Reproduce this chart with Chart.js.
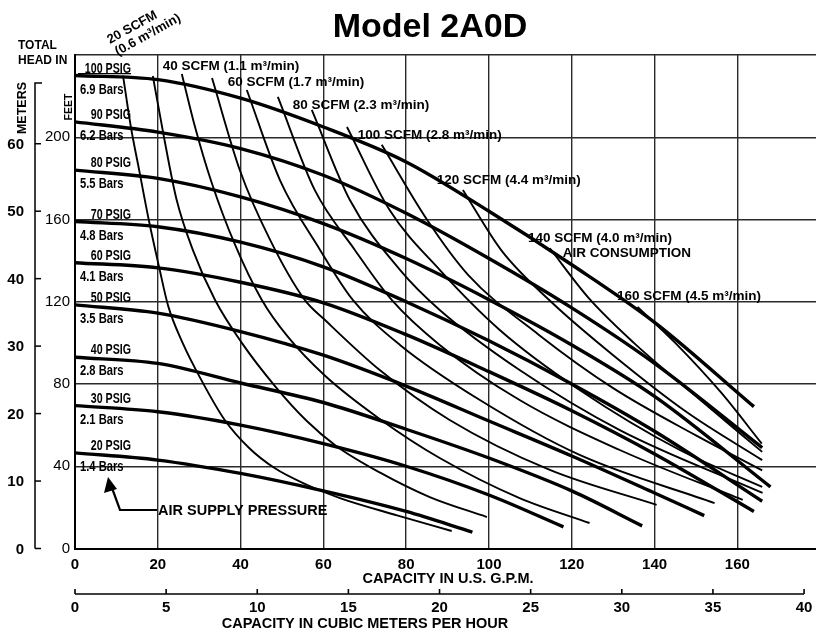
<!DOCTYPE html>
<html>
<head>
<meta charset="utf-8">
<title>Model 2A0D</title>
<script src="https://cdn.jsdelivr.net/npm/chart.js@4.4.0/dist/chart.umd.min.js"></script>
<style>
  html, body { margin: 0; padding: 0; background: #fff; }
  #wrap { width: 816px; height: 634px; }
</style>
</head>
<body>
<div id="wrap"><canvas id="pumpChart" width="816" height="634"></canvas></div>
<script>
/* ================= DATA ================= */
const gpmTicks = [0, 20, 40, 60, 80, 100, 120, 140, 160];
const feetTicks = [0, 40, 80, 120, 160, 200, 240];
const meterTicks = [0, 10, 20, 30, 40, 50, 60];
const m3hTicks = [0, 5, 10, 15, 20, 25, 30, 35, 40];

const psigNames = ["100 PSIG", "90 PSIG", "80 PSIG", "70 PSIG", "60 PSIG", "50 PSIG", "40 PSIG", "30 PSIG", "20 PSIG"];
const barNames = ["6.9 Bars", "6.2 Bars", "5.5 Bars", "4.8 Bars", "4.1 Bars", "3.5 Bars", "2.8 Bars", "2.1 Bars", "1.4 Bars"];

// head in feet vs capacity in gpm, one list per air supply pressure
const psig100 = [[0, 230], [20, 228], [40, 219], [60, 205], [80, 188], [100, 164], [120, 138], [140, 110], [164, 69]];
const psig90 = [[0, 207.5], [20, 202.5], [40, 194.5], [60, 181.5], [80, 163], [100, 141], [120, 117], [140, 90], [166, 49]];
const psig80 = [[0, 184], [20, 180], [40, 171], [60, 158], [80, 141], [100, 121], [120, 99], [140, 74], [168, 30]];
const psig70 = [[0, 159], [20, 156.5], [40, 149], [60, 137], [80, 120], [100, 101], [120, 80], [140, 57], [166, 23]];
const psig60 = [[0, 139], [20, 136.5], [40, 129.5], [60, 119.5], [80, 104], [100, 86], [120, 67], [140, 46], [164, 18]];
const psig50 = [[0, 118.5], [20, 114.5], [40, 105.5], [60, 94], [80, 79], [100, 62], [120, 45], [140, 27], [152, 16]];
const psig40 = [[0, 93], [20, 90], [40, 80.5], [60, 71], [80, 58], [100, 44], [120, 28], [137, 11]];
const psig30 = [[0, 69.5], [20, 66.5], [40, 60], [60, 51], [80, 40], [100, 26], [118, 10.5]];
const psig20 = [[0, 46.5], [20, 43], [40, 36.5], [60, 28], [80, 18], [96, 8]];
const psigCurves = [psig100, psig90, psig80, psig70, psig60, psig50, psig40, psig30, psig20];

// air consumption lines (scfm)
const scfm20 = [[11.6, 230], [13.5, 205], [15.5, 184], [17.8, 160], [20.3, 137], [22.5, 118], [26, 100], [30.5, 82], [36, 63], [42, 49], [48.3, 39], [56, 31], [64, 24.5], [78, 16], [91, 8.5]];
const scfm30 = [[18.8, 229.8], [21.5, 200], [24.5, 170], [28.5, 145], [33.8, 121], [40.3, 100], [48.3, 79], [56, 62], [63, 50], [73.6, 37], [85.7, 25], [99.5, 15.3]];
const scfm40 = [[25.8, 230.8], [29, 205], [33, 178], [38.6, 148], [45.1, 121], [51.4, 103], [60.4, 84], [73.6, 63], [88.1, 44], [107.4, 24.5], [124.3, 12.4]];
const scfm50 = [[33.1, 228.8], [39.8, 184.1], [47.1, 150.2], [55.5, 120.9], [60.4, 111.1], [73.6, 86.8], [90.5, 62.5], [114.7, 38.2], [140.5, 21.2]];
const scfm60 = [[41.5, 223], [49.5, 179.2], [59.2, 145.2], [67.1, 120.9], [78.5, 99], [97.8, 72.2], [121.9, 45.5], [154.5, 22.1]];
const scfm70 = [[49, 219.6], [57.9, 174.4], [67.6, 145.2], [76.5, 120.9], [88.1, 99], [107.4, 72.2], [131.6, 47.9], [161.3, 23.6]];
const scfm80 = [[57.2, 213.3], [66.4, 169.5], [78.5, 135.5], [88.1, 116], [107.4, 86.8], [131.6, 57.6], [166.1, 27]];
const scfm90 = [[65.7, 205], [76, 164.6], [88.1, 135.5], [102.6, 106.3], [121.9, 77.1], [146.1, 47.9], [166, 30]];
const scfm100 = [[74.1, 196.3], [85, 160], [95, 133], [112, 104], [130, 78], [150, 55], [166, 38]];
const scfm120 = [[93.7, 174.4], [103, 145], [115, 120], [130, 94], [148, 66], [166, 43]];
const scfm140 = [[114.7, 146], [124, 122], [135, 100], [150, 74], [166, 47]];
const scfm160 = [[135.9, 117.5], [145, 100], [156, 76], [165.9, 51]];
const scfmCurves = [scfm20, scfm30, scfm40, scfm50, scfm60, scfm70, scfm80, scfm90, scfm100, scfm120, scfm140, scfm160];

/* ================= LABELS ================= */
const FT_PER_M = 3.28084;
const GPM_PER_M3H = 4.40287;

// label anchors in chart units (gpm, ft)
const scfmLabels = [
  { text: "40 SCFM (1.1 m³/min)", gpm: 21.2, ft: 234.7 },
  { text: "60 SCFM (1.7 m³/min)", gpm: 36.9, ft: 226.9 },
  { text: "80 SCFM (2.3 m³/min)", gpm: 52.6, ft: 215.7 },
  { text: "100 SCFM (2.8 m³/min)", gpm: 68.3, ft: 201.1 },
  { text: "120 SCFM (4.4 m³/min)", gpm: 87.4, ft: 179.2 },
  { text: "140 SCFM (4.0 m³/min)", gpm: 109.4, ft: 151 },
  { text: "AIR CONSUMPTION", gpm: 117.8, ft: 143.7 },
  { text: "160 SCFM (4.5 m³/min)", gpm: 130.9, ft: 122.8 }
];

const FONT = "'Liberation Sans', Arial, sans-serif";

function narrowText(ctx, text, x, y, align, sx) {
  ctx.save();
  ctx.translate(x, y);
  ctx.scale(sx, 1);
  ctx.textAlign = align;
  ctx.fillText(text, 0, 0);
  ctx.restore();
}

/* ================= EXTRAS ================= */
const extrasPlugin = {
  id: "extras",
  afterDraw(chart) {
    const ctx = chart.ctx;
    const xs = chart.scales.x;
    const ys = chart.scales.y;
    ctx.save();
    ctx.fillStyle = "#000";
    ctx.strokeStyle = "#000";

    // title
    ctx.font = "bold 34px " + FONT;
    ctx.textAlign = "center";
    ctx.textBaseline = "alphabetic";
    ctx.fillText("Model 2A0D", 430, 37);

    // head caption
    ctx.font = "bold 12px " + FONT;
    ctx.textAlign = "left";
    ctx.fillText("TOTAL", 18, 49);
    ctx.fillText("HEAD IN", 18, 64);

    // rotated axis names
    ctx.save();
    ctx.translate(26, 108);
    ctx.rotate(-Math.PI / 2);
    ctx.textAlign = "center";
    ctx.font = "bold 12.5px " + FONT;
    ctx.fillText("METERS", 0, 0);
    ctx.restore();
    ctx.save();
    ctx.translate(72, 107);
    ctx.rotate(-Math.PI / 2);
    ctx.textAlign = "center";
    ctx.font = "bold 10.5px " + FONT;
    ctx.fillText("FEET", 0, 0);
    ctx.restore();

    // meters axis
    const mx = 35;
    const yTop = ys.getPixelForValue(69 * FT_PER_M);
    ctx.lineWidth = 1.5;
    ctx.beginPath();
    ctx.moveTo(mx + 7, yTop);
    ctx.lineTo(mx, yTop);
    ctx.lineTo(mx, ys.getPixelForValue(0));
    ctx.stroke();
    ctx.font = "bold 15px " + FONT;
    ctx.textAlign = "right";
    ctx.textBaseline = "middle";
    meterTicks.forEach(m => {
      const y = ys.getPixelForValue(m * FT_PER_M);
      ctx.beginPath();
      ctx.moveTo(mx, y);
      ctx.lineTo(mx + 6, y);
      ctx.stroke();
      ctx.fillText(String(m), mx - 11, y + 1);
    });

    // gpm axis caption
    ctx.font = "bold 14.5px " + FONT;
    ctx.textAlign = "center";
    ctx.textBaseline = "middle";
    ctx.fillText("CAPACITY IN U.S. G.P.M.", 448, 579);

    // cubic meters per hour axis
    const y2 = 594;
    const x0 = xs.getPixelForValue(0);
    const x40 = xs.getPixelForValue(m3hTicks[m3hTicks.length - 1] * GPM_PER_M3H);
    ctx.lineWidth = 1.6;
    ctx.beginPath();
    ctx.moveTo(x0, y2);
    ctx.lineTo(x40, y2);
    ctx.stroke();
    ctx.font = "bold 15px " + FONT;
    m3hTicks.forEach(v => {
      const x = xs.getPixelForValue(v * GPM_PER_M3H);
      ctx.beginPath();
      ctx.moveTo(x, y2);
      ctx.lineTo(x, y2 - 5);
      ctx.stroke();
      ctx.fillText(String(v), x, y2 + 14);
    });
    ctx.font = "bold 14.5px " + FONT;
    ctx.fillText("CAPACITY IN CUBIC METERS PER HOUR", 365, 624);

    // pressure labels at the start of each curve
    ctx.font = "bold 14px " + FONT;
    ctx.textBaseline = "alphabetic";
    psigCurves.forEach((pts, i) => {
      const y0 = ys.getPixelForValue(pts[0][1]);
      narrowText(ctx, psigNames[i], 131, y0 - 3, "right", 0.76);
      narrowText(ctx, barNames[i], 80, y0 + 18, "left", 0.8);
    });
    // underline on the top label
    ctx.lineWidth = 1.2;
    ctx.beginPath();
    ctx.moveTo(78, ys.getPixelForValue(psig100[0][1]) - 2);
    ctx.lineTo(131, ys.getPixelForValue(psig100[0][1]) - 2);
    ctx.stroke();

    // scfm labels
    ctx.font = "bold 13.5px " + FONT;
    ctx.textAlign = "left";
    ctx.textBaseline = "middle";
    scfmLabels.forEach(l => {
      ctx.fillText(l.text, xs.getPixelForValue(l.gpm), ys.getPixelForValue(l.ft));
    });

    // rotated 20 scfm label
    ctx.save();
    ctx.translate(110, 44);
    ctx.rotate(-29 * Math.PI / 180);
    ctx.textBaseline = "alphabetic";
    ctx.font = "bold 13px " + FONT;
    ctx.fillText("20 SCFM", 0, 0);
    ctx.fillText("(0.6 m³/min)", 1, 14);
    ctx.restore();

    // air supply pressure pointer
    ctx.font = "bold 14.5px " + FONT;
    ctx.textAlign = "left";
    ctx.textBaseline = "middle";
    ctx.fillText("AIR SUPPLY PRESSURE", 158, 511);
    ctx.lineWidth = 2.2;
    ctx.beginPath();
    ctx.moveTo(157, 510);
    ctx.lineTo(120, 510);
    ctx.lineTo(112, 488);
    ctx.stroke();
    ctx.beginPath();
    ctx.moveTo(108, 477);
    ctx.lineTo(104, 493);
    ctx.lineTo(117, 489);
    ctx.closePath();
    ctx.fill();

    ctx.restore();
  }
};

/* ================= CHART ================= */
function toPoints(pts) {
  return pts.map(([x, y]) => ({ x, y }));
}

const datasets = [];
psigCurves.forEach((pts, i) => {
  datasets.push({
    label: psigNames[i],
    data: toPoints(pts),
    borderColor: "#000",
    borderWidth: 3.4,
    pointRadius: 0,
    cubicInterpolationMode: "monotone",
    fill: false
  });
});
scfmCurves.forEach(pts => {
  datasets.push({
    label: "scfm",
    data: toPoints(pts),
    borderColor: "#000",
    borderWidth: 1.9,
    pointRadius: 0,
    cubicInterpolationMode: "monotone",
    fill: false
  });
});

new Chart(document.getElementById("pumpChart"), {
  type: "line",
  data: { datasets },
  plugins: [extrasPlugin],
  options: {
    responsive: false,
    animation: false,
    devicePixelRatio: 1,
    layout: { padding: { top: 55, right: 0, bottom: 0, left: 0 } },
    plugins: {
      legend: { display: false },
      tooltip: { enabled: false }
    },
    scales: {
      x: {
        type: "linear",
        min: 0,
        max: 179,
        afterBuildTicks: s => { s.ticks = gpmTicks.map(v => ({ value: v })); },
        afterFit: s => { s.height = 85.5; },
        grid: { color: "#2a2a2a", lineWidth: 1.4, drawTicks: false },
        border: { color: "#000", width: 2 },
        ticks: {
          color: "#000",
          padding: 7,
          maxRotation: 0,
          font: { family: FONT, size: 15, weight: "bold" }
        }
      },
      y: {
        type: "linear",
        min: 0,
        max: 240,
        afterBuildTicks: s => { s.ticks = feetTicks.map(v => ({ value: v })); },
        afterFit: s => { s.width = 75; },
        grid: { color: "#2a2a2a", lineWidth: 1.4, drawTicks: false },
        border: { color: "#000", width: 2 },
        ticks: {
          color: "#000",
          padding: 5,
          font: { family: FONT, size: 15 },
          callback: v => (v === 240 ? "" : v)
        }
      }
    }
  }
});
</script>
</body>
</html>
